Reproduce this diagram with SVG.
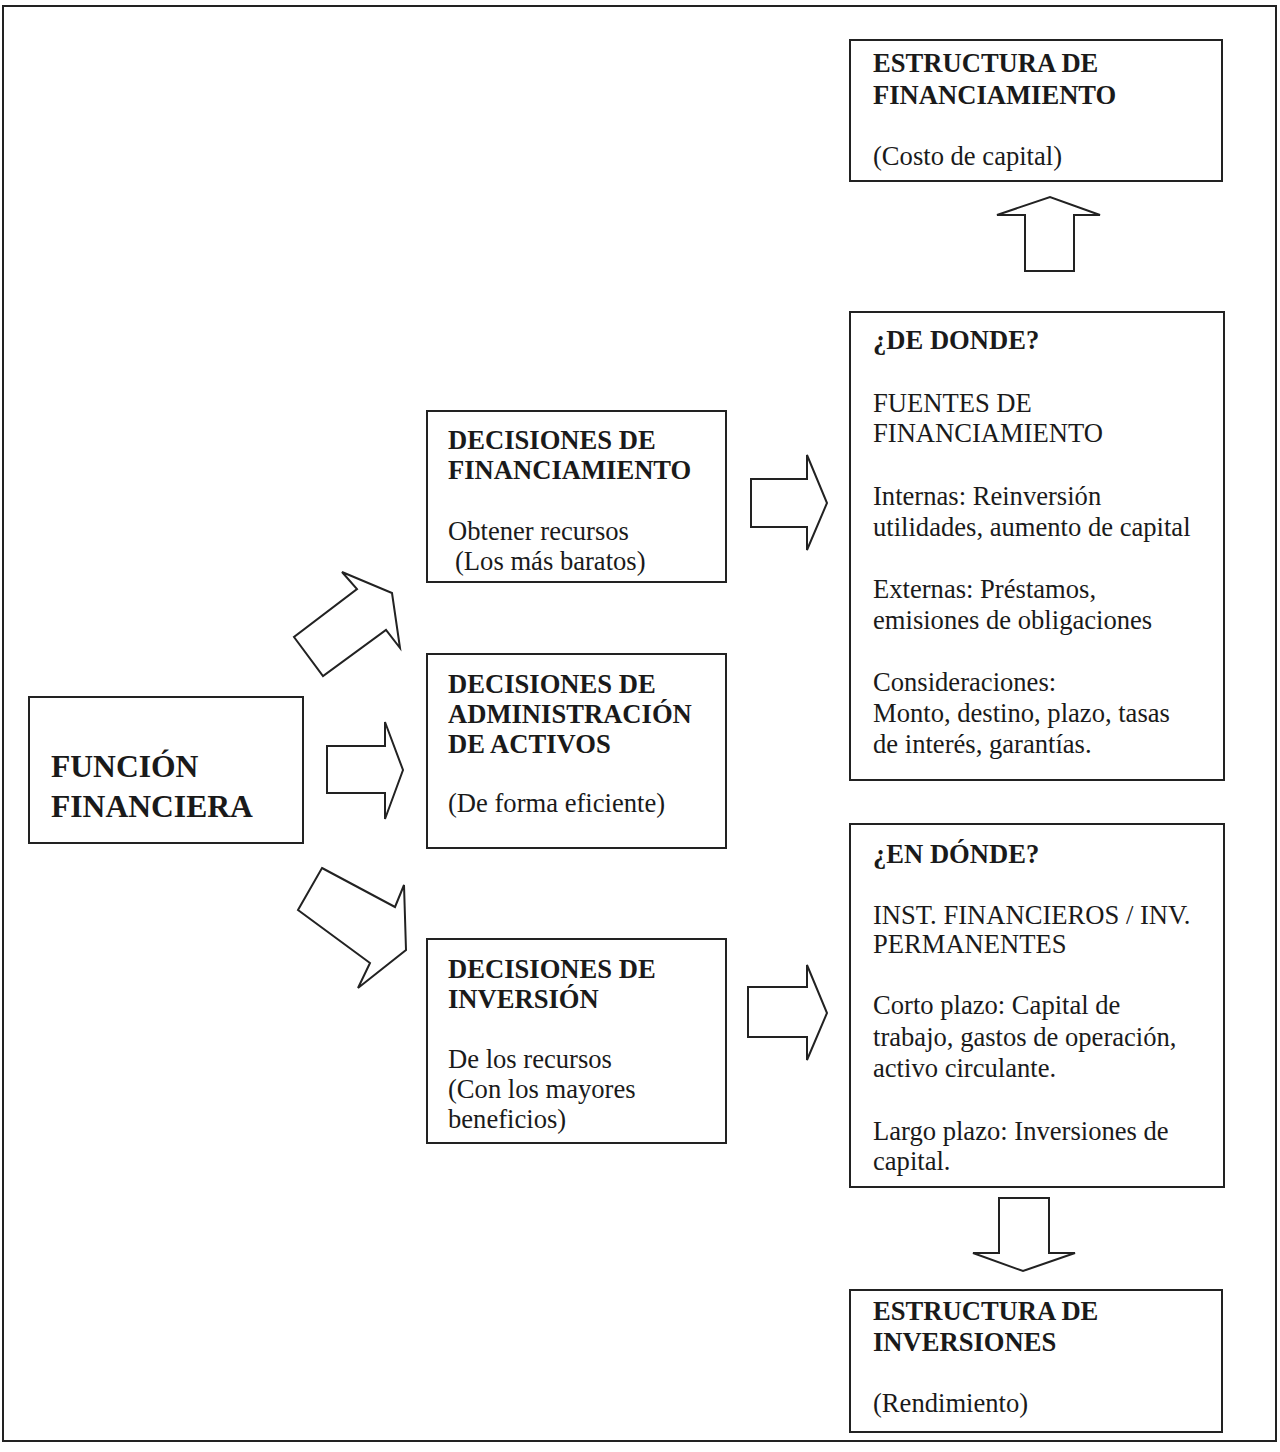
<svg xmlns="http://www.w3.org/2000/svg" width="1280" height="1452" viewBox="0 0 1280 1452">
<style>
.box{fill:#fff;stroke:#222;stroke-width:2}
.arr{fill:#fff;stroke:#222;stroke-width:2;stroke-linejoin:miter}
text{font-family:"Liberation Serif","Times New Roman",serif;font-size:26.6px;fill:#1a1a1a}
.b{font-weight:bold}
.big{font-size:31.6px;font-weight:bold}
</style>
<rect x="0" y="0" width="1280" height="1452" fill="#fff"/>
<rect x="3" y="6" width="1273" height="1435" fill="none" stroke="#222" stroke-width="2"/>

<g id="connectors">
<polygon class="arr" points="1025,271 1074,271 1074,215 1100,215 1050,197 997,215 1025,215"/>
<polygon class="arr" points="751,479 807,479 807,455 827,503 807,550 807,527 751,527"/>
<polygon class="arr" points="342,572 392,593 400,648 386,630 323,676 294,637 357,589"/>
<polygon class="arr" points="327,746 385,746 385,722 403,770 385,819 385,793 327,793"/>
<polygon class="arr" points="322,868 395,907 404,885 406,950 358,988 370,963 298,910"/>
<polygon class="arr" points="748,987 807,987 807,965 827,1013 807,1060 807,1037 748,1037"/>
<polygon class="arr" points="999,1198 1049,1198 1049,1253 1075,1253 1023,1271 973,1253 999,1253"/>
</g>

<g id="estructura-financiamiento">
<rect class="box" x="850" y="40" width="372" height="141"/>
<text class="b" x="873" y="72">ESTRUCTURA DE</text>
<text class="b" x="873" y="104">FINANCIAMIENTO</text>
<text x="873" y="165">(Costo de capital)</text>
</g>

<g id="de-donde">
<rect class="box" x="850" y="312" width="374" height="468"/>
<text class="b" x="873" y="349">¿DE DONDE?</text>
<text x="873" y="412">FUENTES DE</text>
<text x="873" y="442">FINANCIAMIENTO</text>
<text x="873" y="505">Internas: Reinversión</text>
<text x="873" y="536">utilidades, aumento de capital</text>
<text x="873" y="598">Externas: Préstamos,</text>
<text x="873" y="629">emisiones de obligaciones</text>
<text x="873" y="691">Consideraciones:</text>
<text x="873" y="722">Monto, destino, plazo, tasas</text>
<text x="873" y="753">de interés, garantías.</text>
</g>

<g id="decisiones-financiamiento">
<rect class="box" x="427" y="411" width="299" height="171"/>
<text class="b" x="448" y="449">DECISIONES DE</text>
<text class="b" x="448" y="479">FINANCIAMIENTO</text>
<text x="448" y="540">Obtener recursos</text>
<text x="455" y="570">(Los más baratos)</text>
</g>

<g id="funcion-financiera">
<rect class="box" x="29" y="697" width="274" height="146"/>
<text class="big" x="51" y="777">FUNCIÓN</text>
<text class="big" x="51" y="817">FINANCIERA</text>
</g>

<g id="decisiones-administracion">
<rect class="box" x="427" y="654" width="299" height="194"/>
<text class="b" x="448" y="693">DECISIONES DE</text>
<text class="b" x="448" y="723">ADMINISTRACIÓN</text>
<text class="b" x="448" y="753">DE ACTIVOS</text>
<text x="448" y="812">(De forma eficiente)</text>
</g>

<g id="decisiones-inversion">
<rect class="box" x="427" y="939" width="299" height="204"/>
<text class="b" x="448" y="978">DECISIONES DE</text>
<text class="b" x="448" y="1008">INVERSIÓN</text>
<text x="448" y="1068">De los recursos</text>
<text x="448" y="1098">(Con los mayores</text>
<text x="448" y="1128">beneficios)</text>
</g>

<g id="en-donde">
<rect class="box" x="850" y="824" width="374" height="363"/>
<text class="b" x="873" y="863">¿EN DÓNDE?</text>
<text x="873" y="924">INST. FINANCIEROS / INV.</text>
<text x="873" y="953">PERMANENTES</text>
<text x="873" y="1014">Corto plazo: Capital de</text>
<text x="873" y="1046">trabajo, gastos de operación,</text>
<text x="873" y="1077">activo circulante.</text>
<text x="873" y="1140">Largo plazo: Inversiones de</text>
<text x="873" y="1170">capital.</text>
</g>

<g id="estructura-inversiones">
<rect class="box" x="850" y="1290" width="372" height="142"/>
<text class="b" x="873" y="1320">ESTRUCTURA DE</text>
<text class="b" x="873" y="1351">INVERSIONES</text>
<text x="873" y="1412">(Rendimiento)</text>
</g>
</svg>
